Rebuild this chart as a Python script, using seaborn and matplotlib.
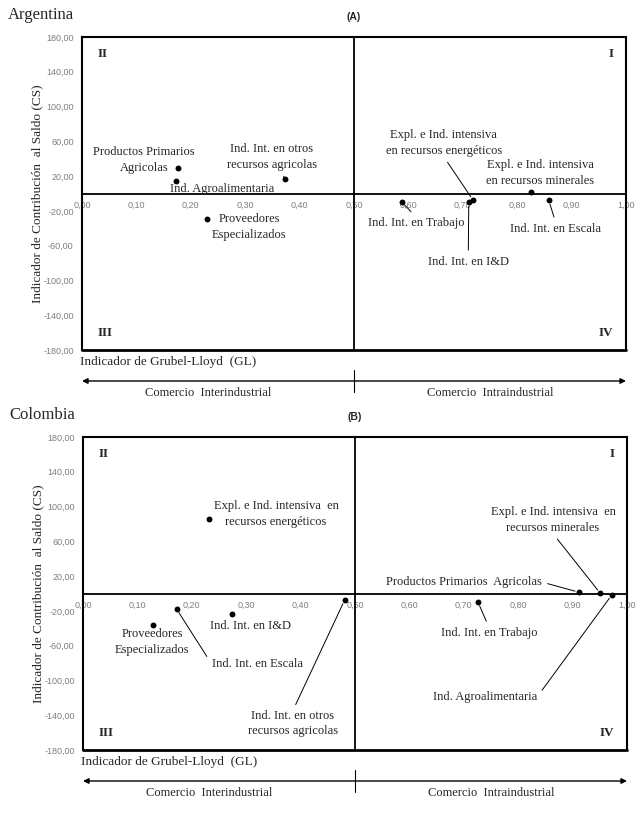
import matplotlib
matplotlib.use("Agg")
import matplotlib.pyplot as plt
import seaborn as sns
import pandas as pd

# --- data ---
ar_sectors = ["Productos Primarios\nAgricolas", "Ind. Agroalimentaria",
              "Ind. Int. en otros\nrecursos agricolas", "Proveedores\nEspecializados",
              "Ind. Int. en Trabajo", "Ind. Int. en I&D",
              "Expl. e Ind. intensiva\nen recursos energéticos",
              "Expl. e Ind. intensiva\nen recursos minerales", "Ind. Int. en Escala"]
ar_gl = [0.176, 0.172, 0.373, 0.230, 0.588, 0.711, 0.719, 0.826, 0.858]
ar_cs = [29.3, 14.4, 16.7, -29.7, -9.8, -10.0, -7.8, 2.1, -7.8]

co_sectors = ["Expl. e Ind. intensiva  en\nrecursos energéticos", "Proveedores\nEspecializados",
              "Ind. Int. en Escala", "Ind. Int. en I&D",
              "Ind. Int. en otros\nrecursos agricolas", "Ind. Int. en Trabajo",
              "Productos Primarios  Agricolas",
              "Expl. e Ind. intensiva  en\nrecursos minerales", "Ind. Agroalimentaria"]
co_gl = [0.231, 0.128, 0.172, 0.273, 0.481, 0.726, 0.912, 0.951, 0.972]
co_cs = [85.3, -36.2, -17.8, -24.0, -7.5, -9.8, 1.4, 0.2, -1.7]

x_ticks = [0.0, 0.1, 0.2, 0.3, 0.4, 0.5, 0.6, 0.7, 0.8, 0.9, 1.0]
y_ticks = [-180, -140, -100, -60, -20, 20, 60, 100, 140, 180]

# label placement: x, y in data units, leader line (None = no line, else where it leaves the text)
ar_layout = [(0.114, 38.5, None), (0.257, 5.2, None), (0.349, 42, (0.6, 0)),
             (0.307, -38.5, None), (0.614, -34, (0.5, 1)), (0.710, -79, (0.5, 1)),
             (0.665, 58, (0.5, 0)), (0.842, 23.6, None), (0.871, -40.8, (0.5, 1))]
co_layout = [(0.355, 91.4, None), (0.127, -55.8, None), (0.320, -81, (0, 0.5)),
             (0.307, -37.4, None), (0.386, -150, (0.5, 1)), (0.746, -45.4, (0.5, 1)),
             (0.700, 13.2, (1, 0.5)), (0.864, 84.5, (0.5, 0)), (0.739, -119, (1, 0.5))]

sns.set_style("white")
plt.rcParams["font.family"] = ["Liberation Serif", "DejaVu Serif"]

fig = plt.figure(figsize=(6.43, 8.14), dpi=100)


def fmt(v):
    return f"{v:.2f}".replace(".", ",")


def panel(ax, sectors, gl, cs, layout, country, letter):
    df = pd.DataFrame({"sector": sectors, "GL": gl, "CS": cs})
    sns.scatterplot(data=df, x="GL", y="CS", ax=ax, color="black", s=18,
                    linewidth=0, zorder=5)
    ax.set_xlim(0, 1)
    ax.set_ylim(-180, 180)
    ax.set_xlabel("")
    ax.set_ylabel("")
    for sp in ax.spines.values():
        sp.set_color("black")
        sp.set_linewidth(1.5)
    ax.spines["bottom"].set_position(("data", 0))
    ax.spines["bottom"].set_linewidth(1.3)
    ax.axhline(-180, color="black", lw=2.0, clip_on=False)
    ax.axvline(0.5, color="black", lw=1.3)

    ax.set_xticks(x_ticks)
    ax.set_xticklabels([fmt(v) for v in x_ticks])
    ax.set_yticks(y_ticks)
    ax.set_yticklabels([fmt(v) for v in y_ticks])
    ax.tick_params(length=0, labelsize=6.5, labelcolor="#7f7f7f")
    ax.tick_params(axis="y", pad=6)
    ax.tick_params(axis="x", pad=5)
    for t in ax.get_xticklabels() + ax.get_yticklabels():
        t.set_family("Liberation Sans")

    for (name, x, y, (tx, ty, rel)) in zip(sectors, gl, cs, layout):
        if rel is not None:
            ax.annotate(name, xy=(x, y), xytext=(tx, ty), ha="center", va="center",
                        fontsize=9, linespacing=1.35,
                        arrowprops=dict(arrowstyle="-", color="black", lw=0.7,
                                        relpos=rel, shrinkA=2, shrinkB=3))
        else:
            ax.text(tx, ty, name, ha="center", va="center", fontsize=9, linespacing=1.35)

    qkw = dict(transform=ax.transAxes, fontsize=9.5, fontweight="bold")
    ax.text(0.028, 0.965, "II", ha="left", va="top", **qkw)
    ax.text(0.977, 0.965, "I", ha="right", va="top", **qkw)
    ax.text(0.028, 0.035, "III", ha="left", va="bottom", **qkw)
    ax.text(0.977, 0.035, "IV", ha="right", va="bottom", **qkw)

    ax.text(-0.083, 0.5, "Indicador de Contribución  al Saldo (CS)", rotation=90,
            transform=ax.transAxes, ha="center", va="center", fontsize=9.5)
    ax.text(-0.004, -0.038, "Indicador de Grubel-Lloyd  (GL)", transform=ax.transAxes,
            ha="left", va="center", fontsize=9.5)

    ax.annotate("", xy=(1.0, -0.099), xytext=(0.0, -0.099), xycoords="axes fraction",
                arrowprops=dict(arrowstyle="<|-|>", color="black", lw=1.0,
                                mutation_scale=8, shrinkA=0, shrinkB=0))
    ax.plot([0.5, 0.5], [-0.064, -0.134], transform=ax.transAxes, color="black",
            lw=0.8, clip_on=False)
    ax.text(0.232, -0.138, "Comercio  Interindustrial", transform=ax.transAxes,
            ha="center", va="center", fontsize=9)
    ax.text(0.75, -0.138, "Comercio  Intraindustrial", transform=ax.transAxes,
            ha="center", va="center", fontsize=9)

    ax.text(-0.136, 1.07, country, transform=ax.transAxes, ha="left", va="center",
            fontsize=12)
    ax.text(0.5, 1.063, letter, transform=ax.transAxes, ha="center", va="center",
            fontsize=7.5, fontweight="bold", family="Liberation Sans")


ax1 = fig.add_axes([82 / 643, 1 - 350 / 814, 544 / 643, 313 / 814])
ax2 = fig.add_axes([83 / 643, 1 - 750 / 814, 544 / 643, 313 / 814])
panel(ax1, ar_sectors, ar_gl, ar_cs, ar_layout, "Argentina", "(A)")
panel(ax2, co_sectors, co_gl, co_cs, co_layout, "Colombia", "(B)")

fig.savefig("out.png", dpi=100)
